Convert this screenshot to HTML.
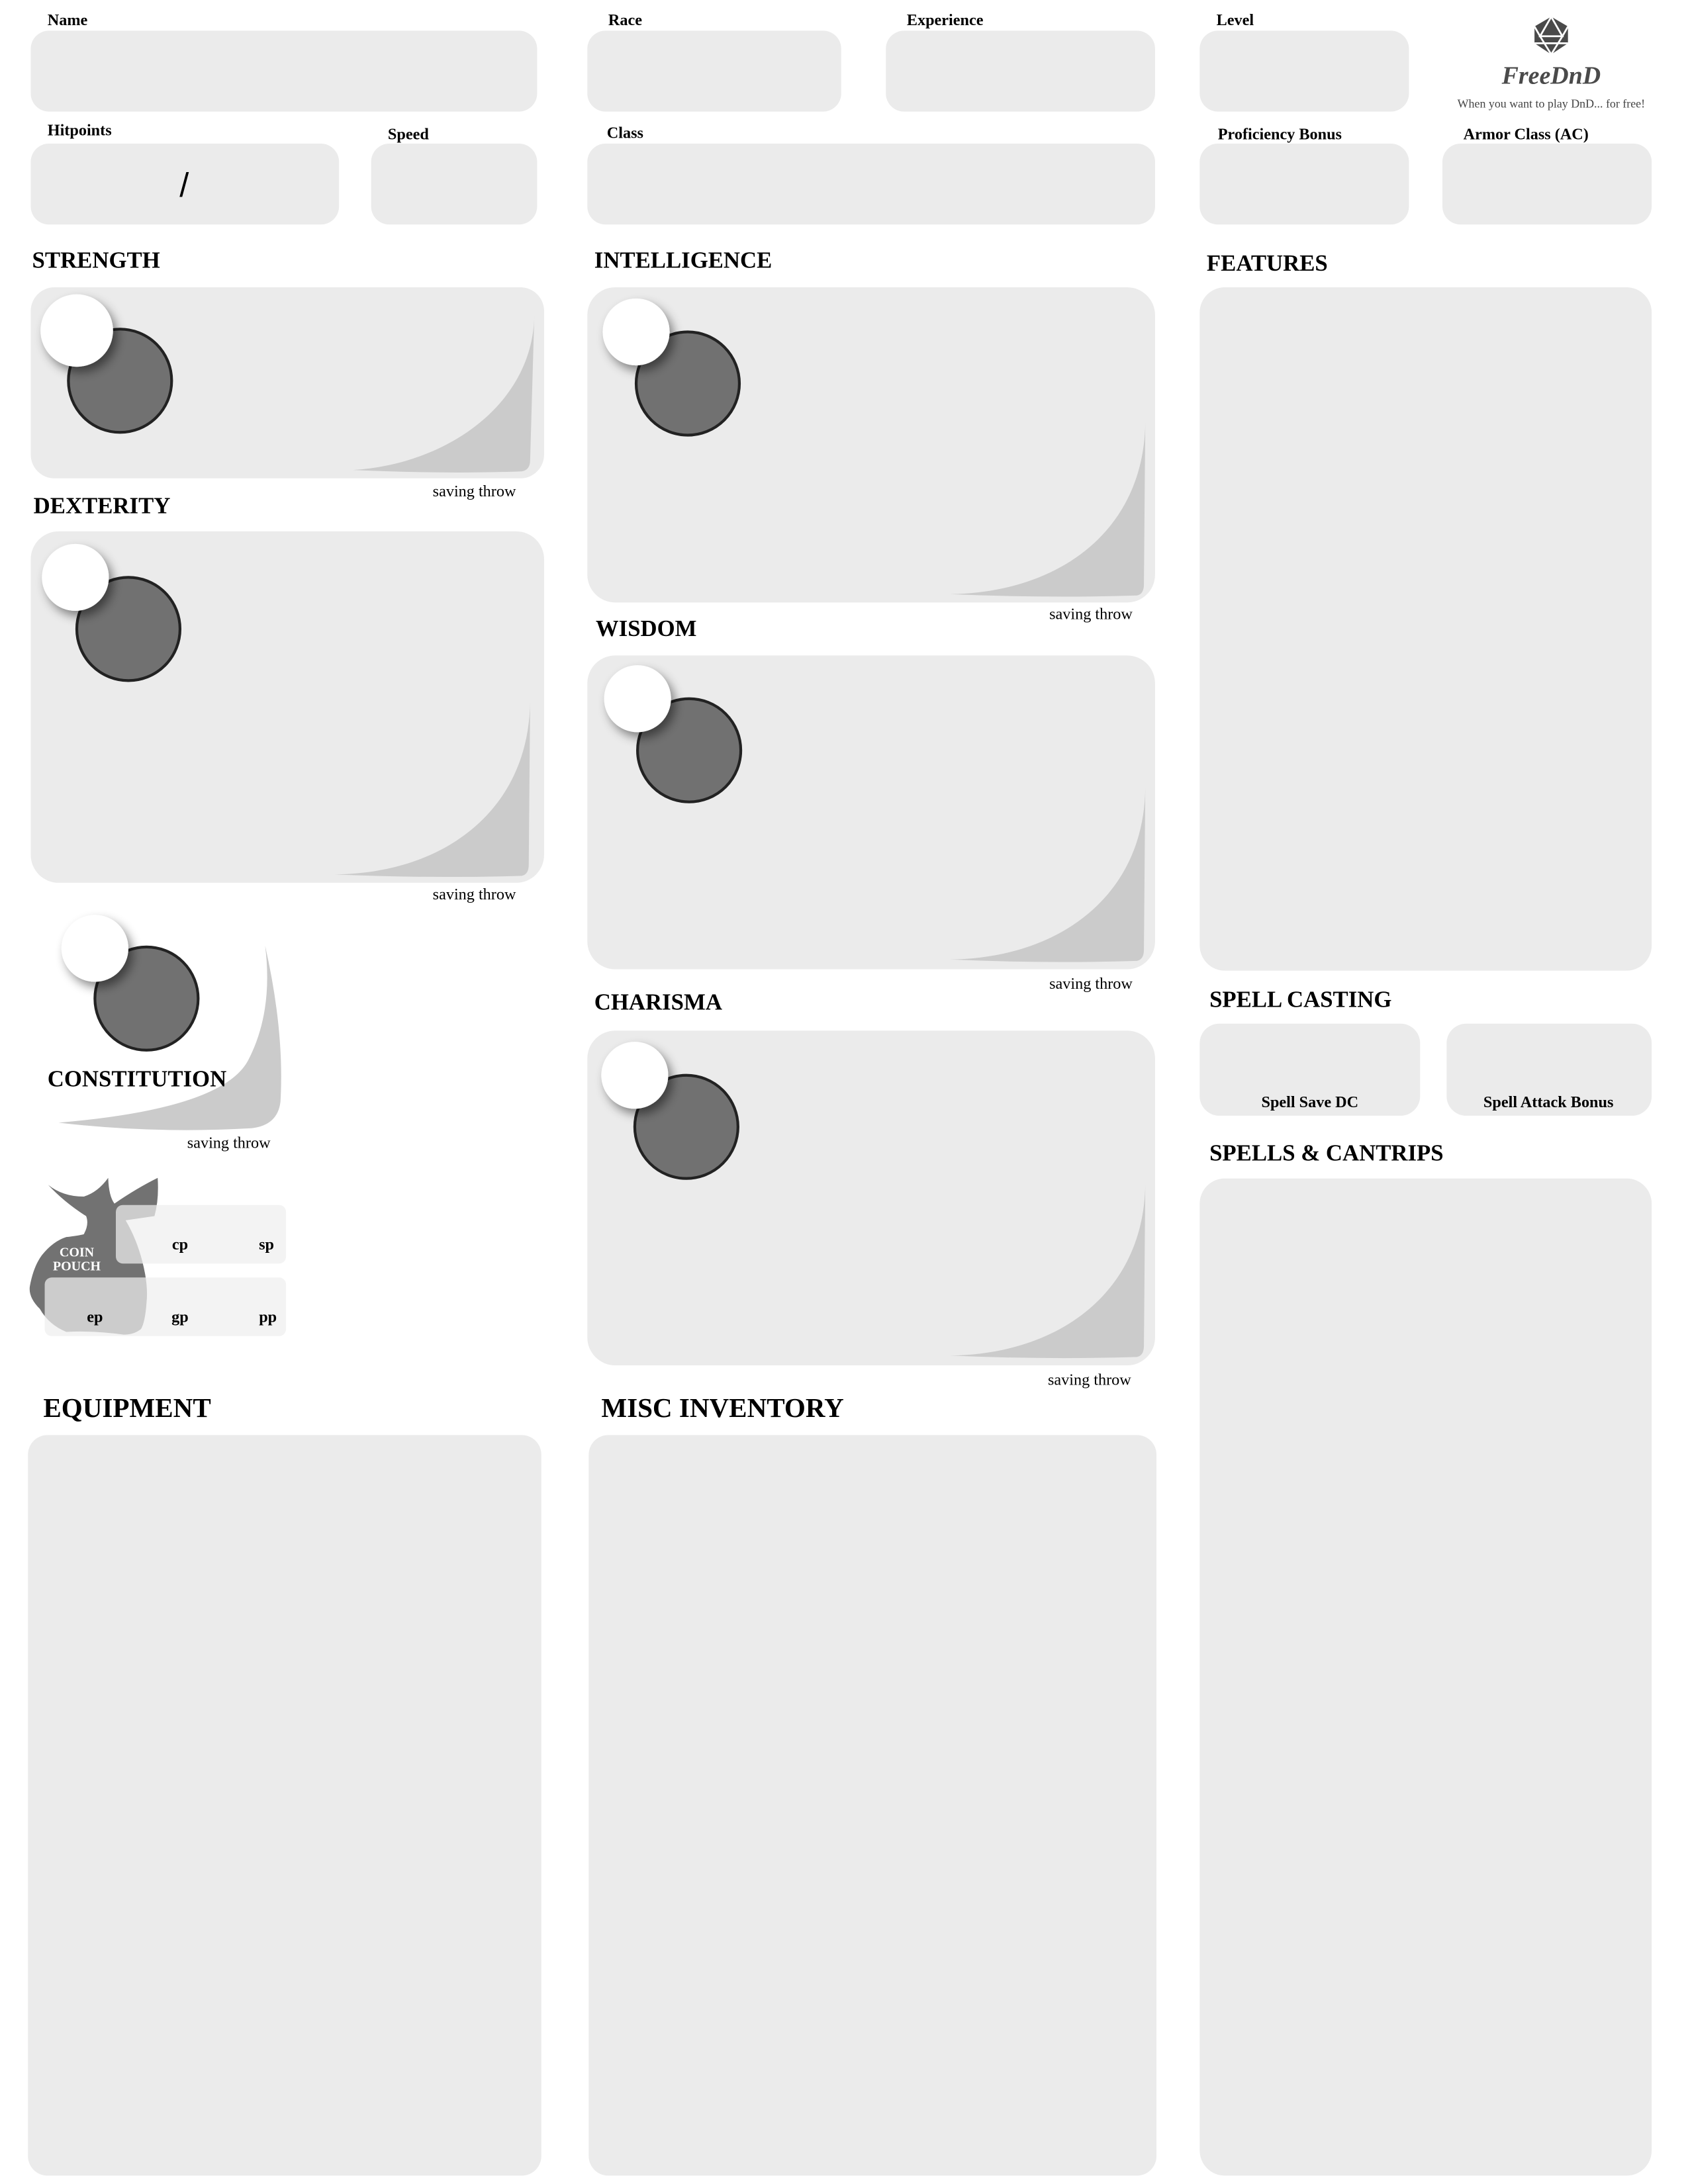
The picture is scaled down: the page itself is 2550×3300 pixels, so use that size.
<!DOCTYPE html>
<html><head><meta charset="utf-8"><style>
html,body{margin:0;padding:0;background:#fff;}
svg{display:block;}
text{font-family:"Liberation Serif",serif;}
.lb{font-size:11.5px;font-weight:bold;fill:#000;}
.hd{font-size:16.5px;font-weight:bold;fill:#000;}
.hd2{font-size:19.5px;font-weight:bold;fill:#000;}
.st{font-size:11.5px;fill:#000;}
.bx{fill:#ebebeb;}
.curl{fill:#cbcbcb;}
.dk{fill:#717171;stroke:#222;stroke-width:2;}
.wc{fill:#fff;filter:url(#sh);}
</style></head><body>
<svg width="2550" height="3300" viewBox="0 0 1210 1566" xmlns="http://www.w3.org/2000/svg">
<defs>
<filter id="sh" x="-50%" y="-50%" width="200%" height="200%"><feDropShadow dx="3" dy="4" stdDeviation="3.5" flood-color="#000" flood-opacity="0.45"/></filter>
</defs>

<!-- top fields -->
<text class="lb" x="34" y="18">Name</text>
<rect class="bx" x="22" y="22" width="363" height="58" rx="13"/>
<text class="lb" x="436" y="18">Race</text>
<rect class="bx" x="421" y="22" width="182" height="58" rx="13"/>
<text class="lb" x="650" y="18">Experience</text>
<rect class="bx" x="635" y="22" width="193" height="58" rx="13"/>
<text class="lb" x="872" y="18">Level</text>
<rect class="bx" x="860" y="22" width="150" height="58" rx="13"/>

<!-- logo -->
<g>
<polygon points="1112,12 1124,19 1124,31 1112,39 1100,31 1100,19" fill="#4a4a4a"/>
<polyline points="1112,12 1104,26 1120,26 1112,12" fill="none" stroke="#fff" stroke-width="1.3"/>
<polyline points="1100,19 1104,26 1112,39 1120,26 1124,19" fill="none" stroke="#fff" stroke-width="1.3"/>
<line x1="1100" y1="31" x2="1124" y2="31" stroke="#fff" stroke-width="1.3"/>
<text x="1112" y="60" text-anchor="middle" style="font-family:'Liberation Serif',serif;font-style:italic;font-weight:bold;font-size:18px;fill:#4a4a4a">FreeDnD</text>
<text x="1112" y="77" text-anchor="middle" style="font-size:8.5px;fill:#444">When you want to play DnD... for free!</text>
</g>

<text class="lb" x="34" y="97">Hitpoints</text>
<rect class="bx" x="22" y="103" width="221" height="58" rx="13"/>
<text x="132" y="141" text-anchor="middle" style="font-family:'Liberation Sans',sans-serif;font-size:24px">/</text>
<text class="lb" x="278" y="100">Speed</text>
<rect class="bx" x="266" y="103" width="119" height="58" rx="13"/>
<text class="lb" x="435" y="99">Class</text>
<rect class="bx" x="421" y="103" width="407" height="58" rx="13"/>
<text class="lb" x="873" y="100">Proficiency Bonus</text>
<rect class="bx" x="860" y="103" width="150" height="58" rx="13"/>
<text class="lb" x="1049" y="100">Armor Class (AC)</text>
<rect class="bx" x="1034" y="103" width="150" height="58" rx="13"/>

<!-- STRENGTH -->
<text class="hd" x="23" y="192">STRENGTH</text>
<rect class="bx" x="22" y="206" width="368" height="137" rx="17"/>
<path class="curl" d="M383,226 C382,290 320,333 253,337 Q 320,340 374,338 Q 380,337 380,330 Z"/>
<circle class="dk" cx="86" cy="273" r="37"/>
<circle class="wc" cx="55" cy="237" r="26"/>
<text class="st" x="340" y="356" text-anchor="middle">saving throw</text>

<!-- DEXTERITY -->
<text class="hd" x="24" y="368">DEXTERITY</text>
<rect class="bx" x="22" y="381" width="368" height="252" rx="20"/>
<path class="curl" d="M380,503 C379,580 320,626 240,627 Q 310,630 374,628 Q 379,627 379,620 Z"/>
<circle class="dk" cx="92" cy="451" r="37"/>
<circle class="wc" cx="54" cy="414" r="24"/>
<text class="st" x="340" y="645" text-anchor="middle">saving throw</text>

<!-- CONSTITUTION -->
<path class="curl" d="M190,678 Q 204,740 201,790 Q 199,807 180,809 Q 110,813 42,805 Q 160,795 178,760 Q 196,725 190,678 Z"/>
<circle class="dk" cx="105" cy="716" r="37"/>
<circle class="wc" cx="68" cy="680" r="24"/>
<text class="hd" x="34" y="779">CONSTITUTION</text>
<text class="st" x="164" y="823" text-anchor="middle">saving throw</text>

<!-- COIN POUCH -->
<path fill="#727272" d="M34.5,849.6 Q 45,858 60,858 Q 70,855 77.5,844.6 Q 78,858 82,863 Q 98,852 113,844.6 Q 114,860 110.7,872 L 90,875 Q 100,892 104,913.6 Q 106,925 105,934 Q 104,948 101,953 Q 96,957 88.6,957 Q 68,954 47.5,955 Q 35,950 28.5,938.5 Q 20,930 21.4,922 Q 24,908 30,900 Q 38,890 47.5,887 Q 56,886 60,885 Q 64,878 61.7,872 Q 46,862 34.5,849.6 Z"/>
<text x="55" y="901" text-anchor="middle" style="font-size:9.5px;font-weight:bold;fill:#fff">COIN</text>
<text x="55" y="911" text-anchor="middle" style="font-size:9.5px;font-weight:bold;fill:#fff">POUCH</text>
<rect x="83" y="864" width="122" height="42" rx="5" fill="rgba(238,238,238,0.72)"/>
<rect x="32" y="916" width="173" height="42" rx="5" fill="rgba(238,238,238,0.72)"/>
<text class="lb" x="129" y="896" text-anchor="middle">cp</text>
<text class="lb" x="191" y="896" text-anchor="middle">sp</text>
<text class="lb" x="68" y="948" text-anchor="middle">ep</text>
<text class="lb" x="129" y="948" text-anchor="middle">gp</text>
<text class="lb" x="192" y="948" text-anchor="middle">pp</text>

<!-- INTELLIGENCE -->
<text class="hd" x="426" y="192">INTELLIGENCE</text>
<rect class="bx" x="421" y="206" width="407" height="226" rx="20"/>
<path class="curl" d="M821,303 C820,380 760,425 681,426 Q 750,429 815,427 Q 820,426 820,419 Z"/>
<circle class="dk" cx="493" cy="275" r="37"/>
<circle class="wc" cx="456" cy="238" r="24"/>
<text class="st" x="782" y="444" text-anchor="middle">saving throw</text>

<!-- WISDOM -->
<text class="hd" x="427" y="456">WISDOM</text>
<rect class="bx" x="421" y="470" width="407" height="225" rx="20"/>
<path class="curl" d="M821,565 C820,642 760,687 681,688 Q 750,691 815,689 Q 820,688 820,681 Z"/>
<circle class="dk" cx="494" cy="538" r="37"/>
<circle class="wc" cx="457" cy="501" r="24"/>
<text class="st" x="782" y="709" text-anchor="middle">saving throw</text>

<!-- CHARISMA -->
<text class="hd" x="426" y="724">CHARISMA</text>
<rect class="bx" x="421" y="739" width="407" height="240" rx="20"/>
<path class="curl" d="M821,849 C820,926 760,971 681,972 Q 750,975 815,973 Q 820,972 820,965 Z"/>
<circle class="dk" cx="492" cy="808" r="37"/>
<circle class="wc" cx="455" cy="771" r="24"/>
<text class="st" x="781" y="993" text-anchor="middle">saving throw</text>

<!-- right column -->
<text class="hd" x="865" y="194">FEATURES</text>
<rect class="bx" x="860" y="206" width="324" height="490" rx="18"/>
<text class="hd" x="867" y="722">SPELL CASTING</text>
<rect class="bx" x="860" y="734" width="158" height="66" rx="14"/>
<rect class="bx" x="1037" y="734" width="147" height="66" rx="14"/>
<text class="lb" x="939" y="794" text-anchor="middle">Spell Save DC</text>
<text class="lb" x="1110" y="794" text-anchor="middle">Spell Attack Bonus</text>
<text class="hd" x="867" y="832">SPELLS &amp; CANTRIPS</text>
<rect class="bx" x="860" y="845" width="324" height="715" rx="18"/>

<!-- bottom -->
<text class="hd2" x="31" y="1016">EQUIPMENT</text>
<rect class="bx" x="20" y="1029" width="368" height="531" rx="14"/>
<text class="hd2" x="431" y="1016">MISC INVENTORY</text>
<rect class="bx" x="422" y="1029" width="407" height="531" rx="14"/>
</svg>
</body></html>
